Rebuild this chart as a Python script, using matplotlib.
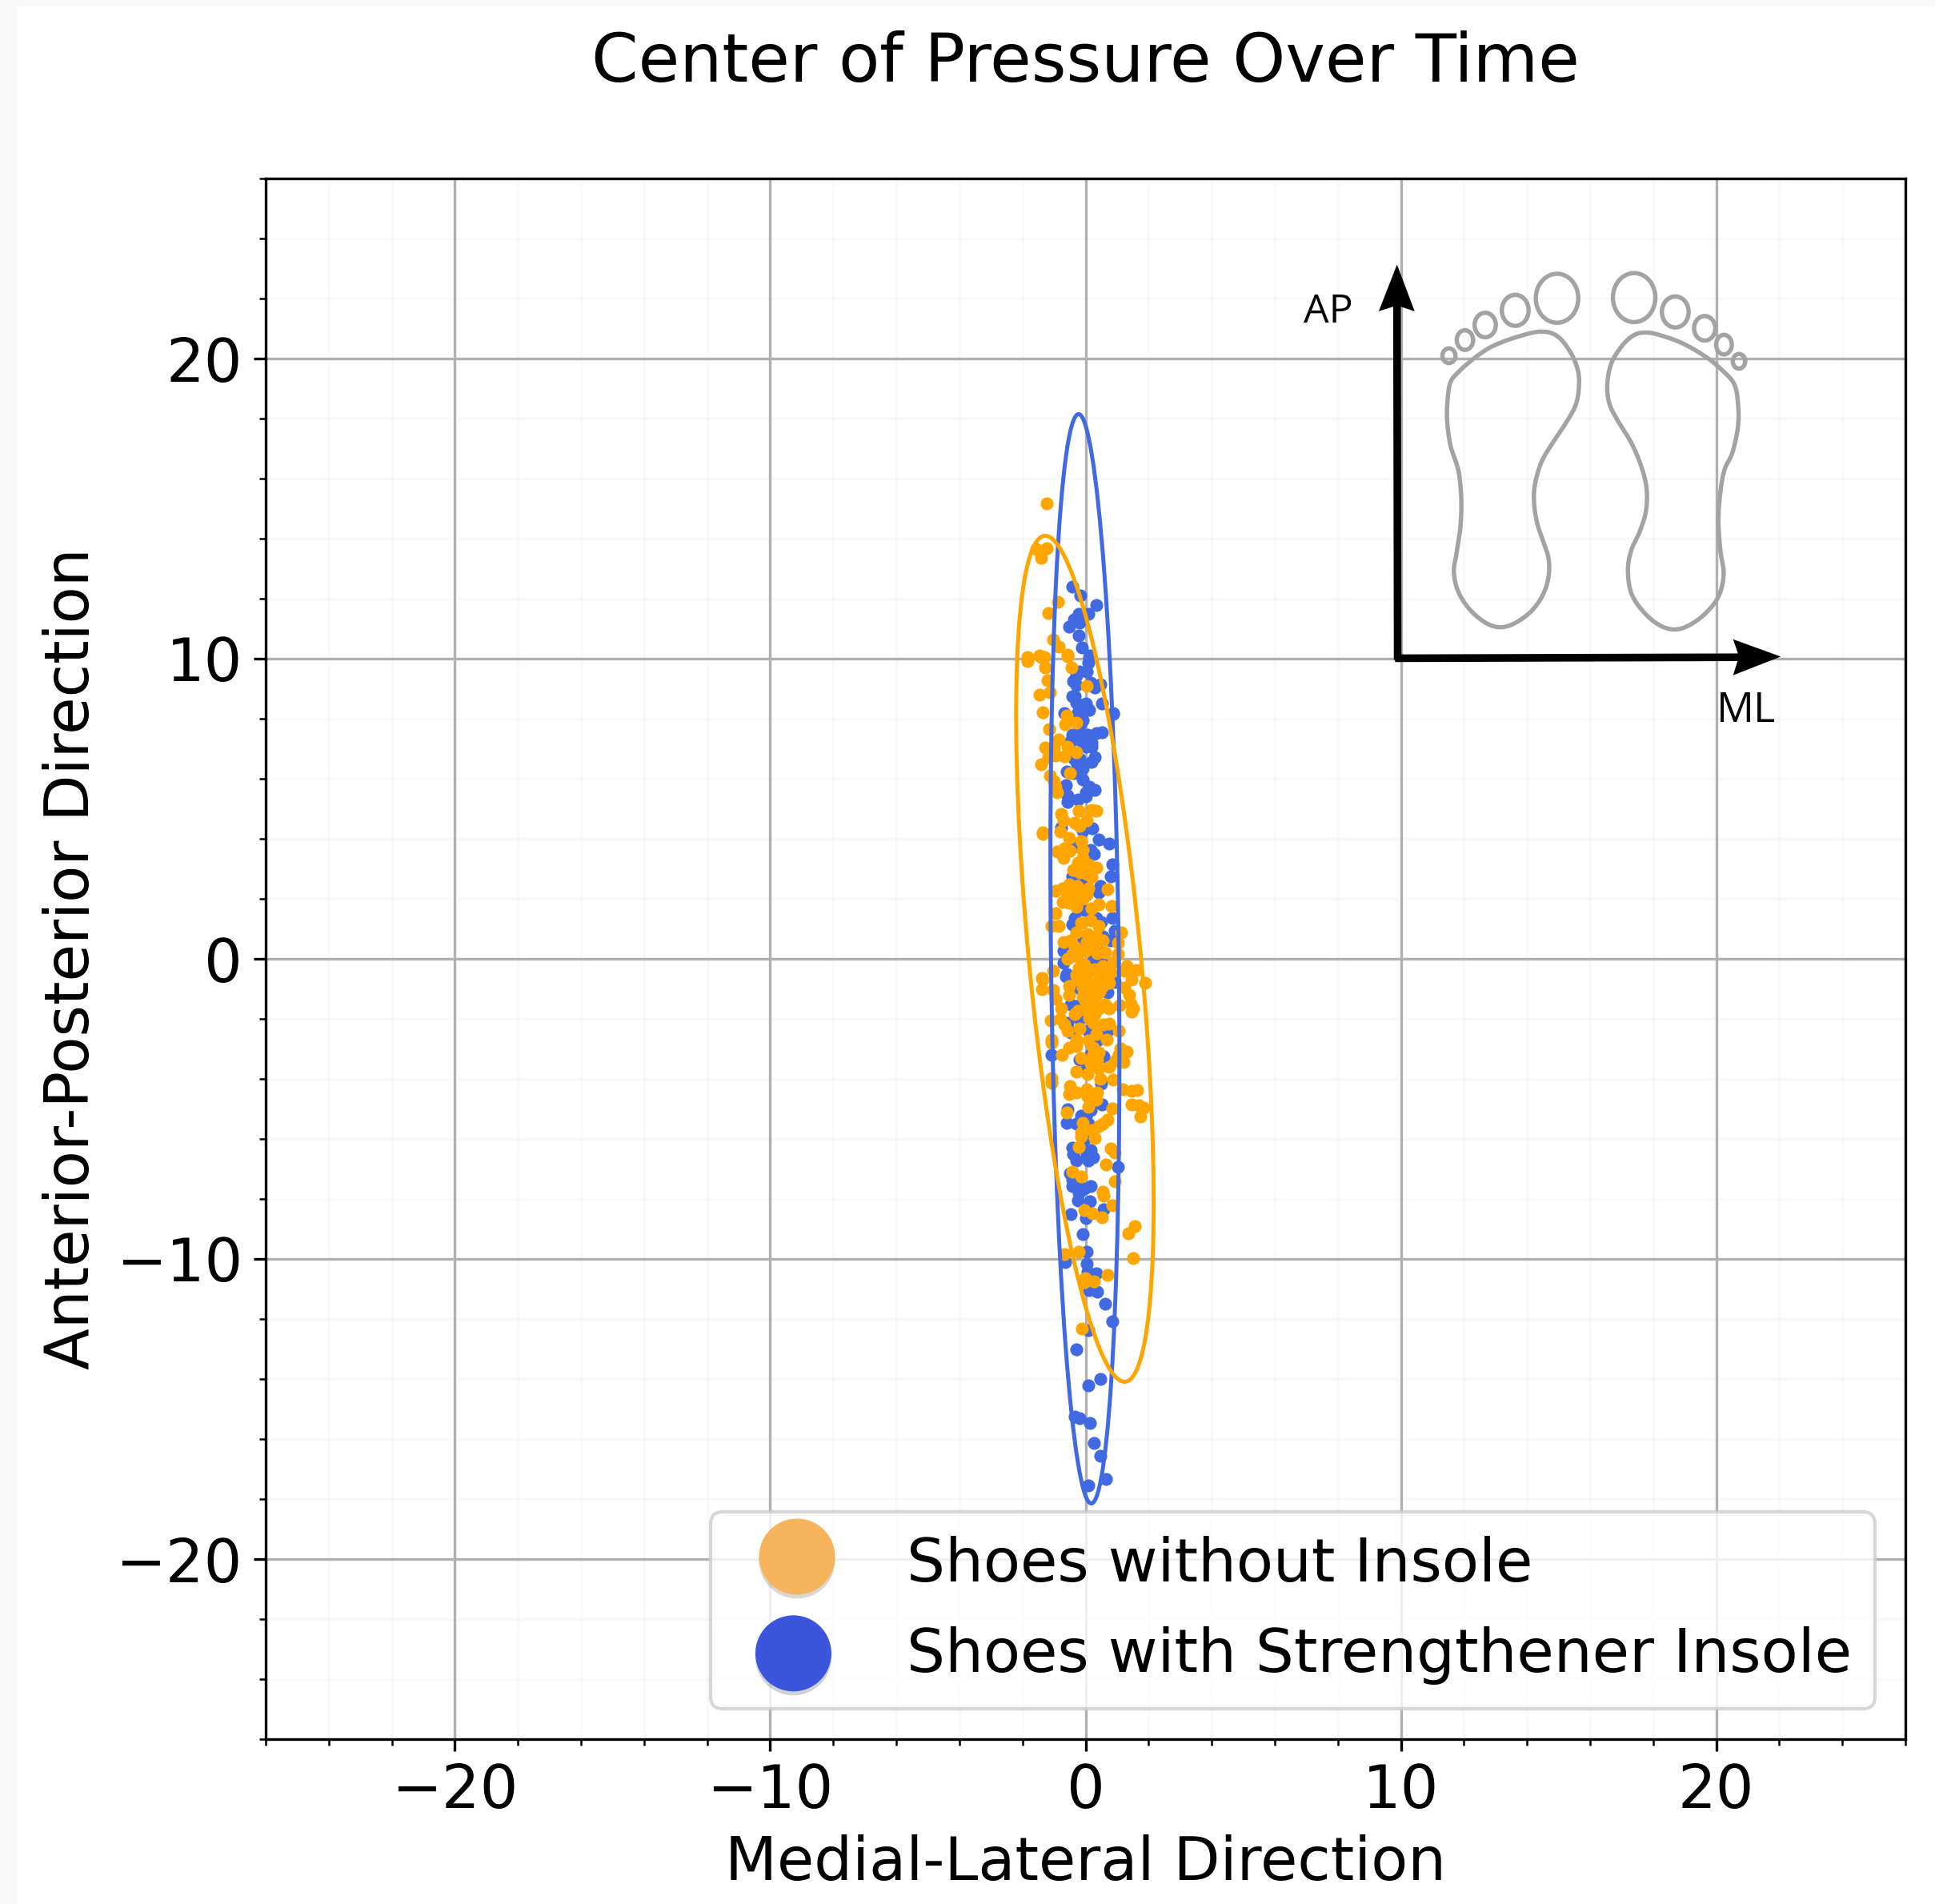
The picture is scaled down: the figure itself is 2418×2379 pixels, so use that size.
import numpy as np
import matplotlib
matplotlib.use("Agg")
import matplotlib.pyplot as plt
from matplotlib.patches import Ellipse, Polygon, Rectangle, PathPatch
from matplotlib.path import Path
from matplotlib.lines import Line2D
from matplotlib.legend_handler import HandlerLine2D
from matplotlib.ticker import MultipleLocator
from matplotlib.transforms import Affine2D
import matplotlib.patheffects as pe

W, H = 2418, 2379
DPI = 300

title = "Center of Pressure Over Time"
xlabel = "Medial-Lateral Direction"
ylabel = "Anterior-Posterior Direction"
labels = ["Shoes without Insole", "Shoes with Strengthener Insole"]

blue_x = [-0.43,-0.16,0.33,0.08,-0.22,-0.36,-0.2,-0.53,-0.22,-0.11,0.14,
 0.12,0.08,0.03,-0.19,-0.3,-0.39,-0.28,0.16,0.29,0.46,-0.35,-0.43,-0.28,0.01,0.12,0.52,0.88,0.88,-0.67,-0.25,-0.09,-0.18,-0.43,-0.25,0.06,0.33,0.52,-0.47,-0.16,0.18,0,0.2,-0.36,-0.19,0.29,0.2,-0.26,-0.08,-0.6,-0.39,-0.09,-0.62,0.12,0.29,0.01,0,-0.58,-0.56,-0.25,
 -0.77,-0.09,0.21,0.41,0.75,-0.47,0.16,0.26,0.85,0.81,-0.43,0.46,0.41,-0.05,-0.35,-0.41,0.85,0.5,0.33,0.92,0.54,0.8,-0.69,-0.69,-0.6,0.58,0.5,-0.05,-0.09,0.25,-0.26,
 -1.07,-0.62,0.92,0.71,-0.18,-0.47,-0.26,-0.18,-0.56,-0.47,0.08,0.71,0.37,0.57,-0.19,0.16,0,0.5,0.52,-0.58,-0.6,-0.28,-0.14,0.16,0.08,0,
 -0.05,-0.43,0.16,0.03,-0.39,0.25,0.08,-0.3,1.02,-0.5,-0.43,-0.43,-0.25,0.16,-0.05,-0.22,-0.24,0.14,0.58,-0.48,0.01,-0.09,0.03,-0.64,0.03,0.06,0.33,
 0.37,0.12,0.63,0.84,0.08,-0.29,0.47,0.08,-0.35,-0.2,0.14,0.26,0.47,0.65,0.08]
blue_y = [12.4,12.1,11.8,11.5,11.5,11.3,11.2,11.07,10.77,10.38,10.1,
 10.05,9.87,9.58,9.58,9.43,9.25,9.11,9.2,9.03,9.16,8.76,8.74,8.54,8.51,8.3,8.51,8.16,8.18,8.18,8.21,7.96,7.76,7.47,7.38,7.47,7.51,7.54,7.25,7.29,7.2,7.07,7.08,6.67,6.67,6.71,6.55,6.49,6.36,6.24,6.18,5.97,5.78,5.73,5.62,5.55,5.42,5.45,5.22,5.31,
 4.38,4.26,4.35,3.98,3.85,3.86,3.64,3.49,3.15,2.75,2.75,2.44,2.22,2.57,1.37,1.15,1.37,1.24,1.37,0.94,0.75,0.61,0.26,-0.14,-0.5,0.21,-0.1,1.64,0.66,-0.05,3.77,
 -3.21,-0.59,-0.77,-1.12,-0.99,-1.52,-1.57,-2.01,-2.14,-2.46,-2.41,-2.41,-2.72,-3.26,-3.35,-3.17,-3.7,-4.17,-4.84,-5.02,-5.47,-5.5,-5.22,-5.04,-5.48,-5.22,
 -6.03,-6.3,-6.37,-6.51,-6.51,-6.62,-6.73,-6.73,-6.92,-7.15,-7.35,-7.57,-7.62,-7.56,-7.66,-7.8,-8.05,-8.09,-8.35,-8.51,-8.64,-9.18,-9.77,-10.11,-10.16,-10.42,-10.49,
 -11.08,-11.05,-11.49,-12.07,-12.37,-13.0,-14.0,-14.21,-15.26,-15.3,-15.46,-16.14,-16.55,-17.34,-17.55]

orange_x = [-1.22,-1.57,-1.24,-1.42,-0.88,-1.18,-1.04,-0.86,-0.57,-1.45,-1.3,-1.85,
 -1.85,-1.4,-0.56,-0.45,-1.29,-1.21,0.05,-1.46,-1.13,-1.35,-0.6,-0.3,-0.64,-1.15,-0.85,-0.58,-1.28,-1.01,-0.3,-1.19,-0.94,-0.67,-1.4,-0.5,-1.13,-1.01,-0.96,-0.9,-0.22,0.2,0.35,-0.77,
 -1.35,-1.35,-0.8,-0.71,-0.35,-0.2,0.03,-0.52,-0.14,-0.91,-0.67,-0.5,-0.71,-0.09,-0.09,-0.25,-0.39,-0.18,0.08,0.33,0.03,0.2,0.69,-0.96,-0.73,-0.52,-0.26,0.08,-0.56,-0.3,0.03,-0.73,-0.52,-0.09,0.41,0.2,-0.28,0.82,-0.96,-1.08,-0.85,-0.14,0.16,0.41,1.13,-0.29,0.06,0.33,0.54,0.03,-0.69,-0.47,1.03,0.25,-0.35,0,-0.43,-0.26,0.37,0.63,1.03,-0.56,0.91,-1.04,-0.05,-0.22,0.16,0.54,1.3,1.6,1.22,0.8,0.41,-0.3,-1.38,
 -1.36,-1.39,-1.02,-0.96,-0.77,-0.35,-0.25,-0.52,-0.53,-0.09,0.08,0.41,0.75,-0.26,1.22,1.39,1.47,1.88,1.51,1.46,1.43,1.09,0.63,0.75,-0.01,0.16,0.41,0.08,0.29,0.12,0.25,-1.11,-0.81,-0.68,-0.58,-0.2,0.58,0.75,1.05,0.35,0.67,-1.07,-1.07,-0.3,-0.3,-0.53,0.08,0.25,-0.75,1.11,1.3,1.05,0.96,1.2,0.41,0.25,0.37,-0.15,0.16,0.41,0.75,-0.3,0.06,0.46,0.88,-1.09,-1.07,-0.5,-0.53,-0.3,0.05,0.06,0.37,0.33,1.18,1.45,1.64,0.09,0.85,1.46,1.68,1.85,1.73,-0.6,-0.09,0.69,0.54,0.41,0.2,-0.14,
 0.29,-0.14,-0.22,0.81,0.92,0.65,-0.41,-0.15,0.92,0.54,0.56,0.85,-0.05,0.22,0.52,1.56,1.36,-0.67,-0.22,1.51,0.69,-0.01,-0.05,0.27,-0.11,
 0.0,0.1,0.2,0.3,0.35,0.45,0.55,0.15,0.25,0.05,-0.1,-0.2,0.0,0.3,0.45]
orange_y = [15.18,13.66,13.69,13.36,11.89,11.52,10.63,10.41,10.13,10.1,10.05,10.05,
 9.92,10.05,10.07,9.71,9.71,9.27,9.1,8.8,8.87,8.22,8.12,7.87,7.82,7.66,7.31,7.08,7.05,7.02,6.89,6.73,6.78,6.75,6.49,6.18,6.11,5.91,5.73,5.55,4.93,4.95,4.93,4.82,
 4.22,4.15,4.25,4.62,4.53,4.44,4.62,4.04,3.91,3.57,3.68,3.6,3.37,3.64,3.37,3.2,2.97,2.88,3.15,3.04,2.84,2.71,2.31,2.26,2.35,2.48,2.44,2.35,2.17,2.17,2.13,1.89,1.86,1.99,1.82,1.68,1.73,1.75,1.53,1.09,1.1,1.21,1.28,1.1,0.88,0.87,0.84,0.75,0.61,0.57,0.57,0.61,0.53,0.39,0.39,0.26,0.17,0.08,0.2,0.21,0.15,-0.01,-0.1,-0.41,-0.19,-0.32,-0.36,-0.23,-0.25,-0.36,-0.41,-0.45,-0.5,-0.54,-0.63,
 -0.69,-1.02,-1.03,-1.34,-1.64,-1.83,-1.74,-0.9,-1.21,-1.25,-0.77,-0.77,-0.81,-0.68,-0.96,-1.21,-0.68,-0.81,-1.66,-1.76,-1.48,-1.55,-1.52,-1.64,-1.39,-1.57,-1.66,-1.75,-1.83,-1.97,-2.14,-2.06,-2.01,-2.19,-2.41,-2.32,-2.19,-2.16,-2.41,-2.5,-2.7,-2.68,-2.81,-2.68,-2.9,-2.97,-2.72,-2.95,-3.21,-2.99,-3.1,-3.21,-3.39,-3.45,-3.12,-3.21,-3.35,-3.3,-3.48,-3.66,-3.59,-3.75,-3.84,-4.01,-4.03,-3.97,-4.13,-4.24,-4.5,-4.46,-4.34,-4.59,-4.46,-4.68,-4.35,-4.39,-4.37,-4.93,-4.99,-4.84,-4.88,-4.97,-5.26,-5.11,-5.46,-5.35,-5.48,-5.57,-5.71,-5.79,
 -5.97,-5.93,-6.27,-6.33,-6.46,-6.84,-7.09,-7.26,-7.4,-7.77,-7.89,-8.2,-8.38,-8.49,-8.6,-8.91,-9.15,-9.84,-9.77,-9.98,-10.54,-10.64,-10.78,-10.74,-12.33,
 -0.6,-0.9,-1.0,-0.9,-1.2,-1.1,-0.9,-1.3,-1.5,-1.15,-0.95,-0.55,-0.35,-0.35,-0.55]

# confidence ellipses: centre x, centre y, minor axis, major axis, tilt in degrees
orange_ellipse = (-0.02, 0.0, 3.55, 28.3, 5.18)
blue_ellipse = (-0.02, 0.0, 2.15, 36.3, 0.64)

# foot sketch outlines, in the sketch's own drawing units
left_foot = [(750,280),(800,295),(840,345),(862,400),(865,450),(855,505),(825,560),(785,620),(750,680),(730,750),(728,810),(738,870),(755,920),(772,975),(772,1030),(755,1085),(720,1135),(670,1172),(625,1185),(580,1172),(530,1130),(495,1075),(482,1015),(490,960),(502,880),(505,800),(500,730),(492,690),(472,630),(462,560),(462,500),(470,440),(490,410),(540,365),(600,325),(680,295)]
right_foot = [(1070,283),(1110,290),(1180,315),(1250,355),(1300,395),(1340,440),(1352,500),(1352,570),(1335,650),(1310,705),(1297,780),(1292,860),(1298,950),(1308,1020),(1295,1085),(1260,1135),(1210,1175),(1160,1192),(1110,1178),(1060,1135),(1025,1080),(1015,1010),(1025,950),(1050,895),(1070,830),(1072,760),(1055,690),(1025,620),(985,555),(958,500),(952,440),(965,375),(1000,320),(1035,290)]
toes = [(798,178,130,150),(670,215,82,95),(578,260,65,75),(516,306,50,60),(467,354,40,45),
        (1034,176,130,150),(1160,220,82,95),(1250,270,65,75),(1309,320,48,60),(1355,371,38,45)]

ORANGE, BLUE = "#ffa500", "#4169e1"

fig = plt.figure(figsize=(W / DPI, H / DPI), dpi=DPI, facecolor="white")
px = Affine2D().scale(1 / W, -1 / H).translate(0, 1) + fig.transFigure
sk = Affine2D().scale(1 / 2.45).translate(1620, 300) + px

fig.add_artist(Rectangle((0, 0), 22, H, transform=px, fc="#f9f9f9", ec="none"))
fig.add_artist(Rectangle((0, 0), W, 8, transform=px, fc="#f9f9f9", ec="none"))

L, R, T, B = 332, 2381, 223, 2173
ax = fig.add_axes([L / W, 1 - B / H, (R - L) / W, (B - T) / H])
ax.set_xlim(-26, 26)
ax.set_ylim(-26, 26)
ax.xaxis.set_major_locator(MultipleLocator(10))
ax.yaxis.set_major_locator(MultipleLocator(10))
ax.xaxis.set_minor_locator(MultipleLocator(2))
ax.yaxis.set_minor_locator(MultipleLocator(2))
ax.grid(which="major", color="#b0b0b0", lw=0.8)
ax.grid(which="minor", color="#b0b0b0", lw=0.8, alpha=0.07)
ax.set_axisbelow(True)
ax.tick_params(labelsize=18)

ax.scatter(blue_x, blue_y, s=15, color=BLUE, zorder=2.2, linewidths=0)
ax.scatter(orange_x, orange_y, s=15, color=ORANGE, zorder=2.3, linewidths=0)
for (cx, cy, w, h, a), c, z in ((blue_ellipse, BLUE, 2.4), (orange_ellipse, ORANGE, 2.5)):
    ax.add_patch(Ellipse((cx, cy), w, h, angle=a, fc="none", ec=c, lw=1.2, zorder=z))

ax.set_title(title, fontsize=20.15, pad=29)
ax.set_xlabel(xlabel, fontsize=18.1, labelpad=4.1)
ax.set_ylabel(ylabel, fontsize=18.15, labelpad=4.1)

# inset sketch
def smooth(points, n=12):
    p = np.array(points, float)
    out = []
    m = len(p)
    for i in range(m):
        p0, p1, p2, p3 = p[i - 1], p[i], p[(i + 1) % m], p[(i + 2) % m]
        for t in np.linspace(0, 1, n, endpoint=False):
            out.append(0.5 * (2 * p1 + (p2 - p0) * t + (2 * p0 - 5 * p1 + 4 * p2 - p3) * t ** 2
                              + (3 * p1 - p0 - 3 * p2 + p3) * t ** 3))
    out.append(out[0])
    return np.array(out)

SK = "#a3a3a3"
for foot in (left_foot, right_foot):
    fig.add_artist(PathPatch(Path(smooth(foot)), transform=sk, fc="none", ec=SK, lw=1.3, zorder=5))
for cx, cy, w, h in toes:
    fig.add_artist(Ellipse((cx, cy), w, h, transform=sk, fc="none", ec=SK, lw=1.3, zorder=5))
fig.add_artist(Line2D([310, 308], [1285, 190], transform=sk, color="k", lw=2.3, zorder=6, solid_capstyle="butt"))
fig.add_artist(Line2D([302, 1360], [1280, 1277], transform=sk, color="k", lw=2.3, zorder=6, solid_capstyle="butt"))
fig.add_artist(Polygon([(308, 75), (362, 218), (308, 200), (252, 218)], transform=sk, fc="k", ec="none", zorder=6))
fig.add_artist(Polygon([(1483, 1275), (1337, 1222), (1355, 1275), (1337, 1332)], transform=sk, fc="k", ec="none", zorder=6))
fig.text(98, 221, "AP", transform=sk, fontsize=12, family="Open Sans", ha="center", va="center", zorder=6)
fig.text(1378, 1441, "ML", transform=sk, fontsize=12.5, family="Open Sans", ha="center", va="center", zorder=6)


class ShiftedHandler(HandlerLine2D):
    def __init__(self, dx, dy, **kw):
        super().__init__(**kw)
        self.shift = (dx, dy)

    def create_artists(self, legend, orig, xd, yd, width, height, fontsize, trans):
        arts = super().create_artists(legend, orig, xd, yd, width, height, fontsize, trans)
        for a in arts:
            a.set_transform(Affine2D().translate(*self.shift) + trans)
        return arts


shadow = [pe.SimplePatchShadow(offset=(0, -1.2), alpha=0.2), pe.Normal()]
handles = [Line2D([], [], ls="none", marker="o", ms=22.8, mfc="#f6b55c", mec="none", path_effects=shadow),
           Line2D([], [], ls="none", marker="o", ms=22.8, mfc="#3b55dc", mec="none", path_effects=shadow)]
leg = ax.legend(handles, labels, loc="lower right", bbox_to_anchor=(0.9815, 0.0196), borderaxespad=0,
                fontsize=18.12, handletextpad=0.85, labelspacing=0.535, borderpad=0.39, handlelength=2.0,
                handler_map={handles[0]: ShiftedHandler(0.75, 1.1), handles[1]: ShiftedHandler(-0.35, -0.7)})
leg.get_frame().set_linewidth(1.0)

fig.savefig("out.png", dpi=DPI, facecolor=fig.get_facecolor())
